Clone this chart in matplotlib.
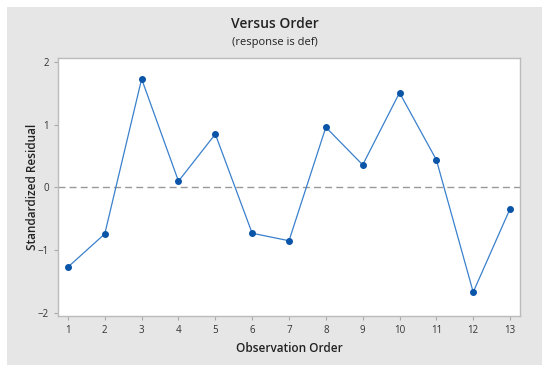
import matplotlib
matplotlib.use("Agg")
import matplotlib.pyplot as plt
from matplotlib.patches import Rectangle

# Datos
orden = [1, 2, 3, 4, 5, 6, 7, 8, 9, 10, 11, 12, 13]
residuo = [-1.27, -0.74, 1.73, 0.10, 0.85, -0.73, -0.85, 0.96, 0.36, 1.51, 0.44, -1.67, -0.34]
yticks = [-2, -1, 0, 1, 2]
ytick_labels = ["\u22122", "\u22121", "0", "1", "2"]

plt.rcParams['font.family'] = ['Open Sans', 'DejaVu Sans']

W, H = 550, 374
fig = plt.figure(figsize=(W / 100, H / 100), dpi=100)
fig.patch.set_facecolor("white")
# fondo gris
fig.add_artist(Rectangle((7 / W, 1 - 365 / H), (542 - 7) / W, (365 - 7) / H,
                         transform=fig.transFigure, facecolor="#e6e6e6",
                         edgecolor="none", zorder=0))

ax = fig.add_axes([58 / W, 1 - 316 / H, (520 - 58) / W, (316 - 58) / H])
ax.set_facecolor("white")
ax.plot(orden, residuo, color="#3a80cc", lw=0.9, marker="o", ms=4,
        markerfacecolor="#0a55a8", markeredgecolor="#0a55a8", zorder=3)
ax.axhline(0, color="#999999", lw=1.0, ls=(0, (5, 3)), zorder=2)

ax.set_xlim(0.73, 13.27)
ax.set_ylim(-2.05, 2.064)
ax.set_xticks(orden)
ax.set_yticks(yticks)
ax.set_yticklabels(ytick_labels)
ax.tick_params(labelsize=7, colors="#333333", length=3, color="#aaaaaa")
for s in ax.spines.values():
    s.set_color("#bbbbbb")
    s.set_linewidth(1.0)

ax.set_xlabel("Observation Order", fontsize=8.5, fontweight="semibold", color="#222222")
ax.set_ylabel("Standardized Residual", fontsize=8.5, fontweight="semibold", color="#222222")
ax.xaxis.set_label_coords(0.5, -(348 - 316) / (316 - 58), transform=ax.transAxes)
ax.yaxis.set_label_coords(-(58 - 32) / (520 - 58), 0.5, transform=ax.transAxes)
ax.xaxis.label.set_va("center")
ax.yaxis.label.set_va("center")

fig.text(0.5, 1 - 24 / H, "Versus Order", ha="center", va="center",
         fontsize=10, fontweight="semibold", color="#222222")
fig.text(0.5, 1 - 42 / H, "(response is def)", ha="center", va="center",
         fontsize=8, color="#222222")

plt.savefig("out.png", dpi=100, facecolor="white")
